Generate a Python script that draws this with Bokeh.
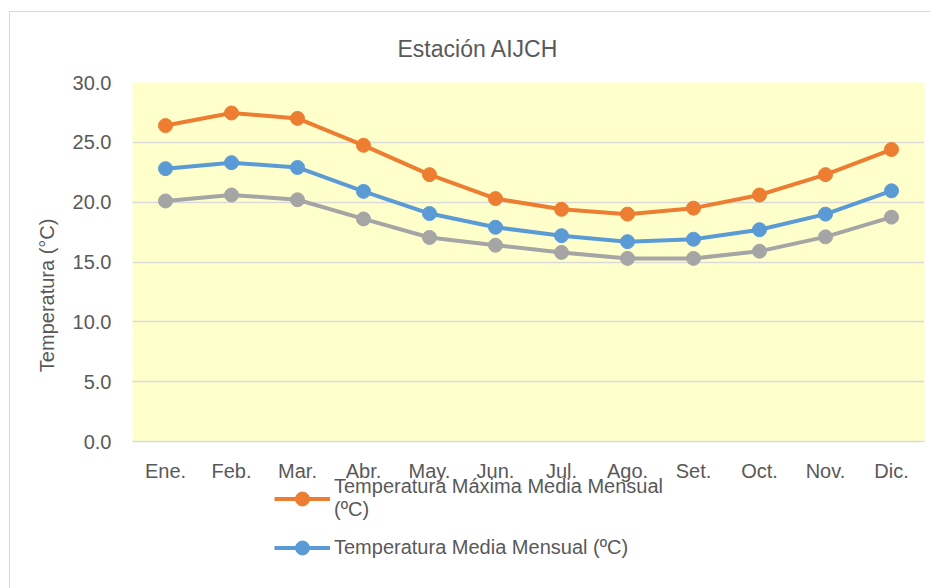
from bokeh.plotting import figure
from bokeh.layouts import column
from bokeh.models import (ColumnDataSource, FactorRange, Range1d, FixedTicker,
                          NumeralTickFormatter, Legend, LegendItem)
from bokeh.embed import file_html
from bokeh.resources import INLINE

months = ["Ene.", "Feb.", "Mar.", "Abr.", "May.", "Jun.", "Jul.", "Ago.", "Set.", "Oct.", "Nov.", "Dic."]
t_max = [26.4, 27.45, 27.0, 24.75, 22.3, 20.3, 19.4, 19.0, 19.5, 20.6, 22.3, 24.4]
t_med = [22.8, 23.3, 22.9, 20.9, 19.05, 17.9, 17.2, 16.7, 16.9, 17.7, 19.0, 20.95]
t_min = [20.1, 20.6, 20.2, 18.6, 17.05, 16.4, 15.8, 15.3, 15.3, 15.9, 17.1, 18.75]
y_ticks = [0, 5, 10, 15, 20, 25, 30]

title_text = "Estación AIJCH"
y_label_text = "Temperatura (°C)"
name_max = "Temperatura Máxima Media Mensual\n(ºC)"
name_med = "Temperatura Media Mensual (ºC)"
name_min = "Temperatura Mínima Media Mensual (ºC)"

FONT = "Liberation Sans"
TXT = "#595959"
colors = {"tmax": "#ED7D31", "tmed": "#5B9BD5", "tmin": "#A5A5A5"}

src = ColumnDataSource(dict(m=months, tmax=t_max, tmed=t_med, tmin=t_min))
x_range = FactorRange(*months)

p = figure(width=920, height=472, x_range=x_range, y_range=Range1d(0, 30),
           output_backend="svg", toolbar_location=None,
           min_border_left=122, min_border_top=70, min_border_right=6, min_border_bottom=38)
p.background_fill_color = "#FFFFCC"
p.border_fill_color = "white"
p.outline_line_color = None

p.title.text = title_text
p.title.text_font = FONT
p.title.text_font_size = "23px"
p.title.text_font_style = "normal"
p.title.text_color = TXT
p.title.align = "left"
p.title.offset = 265
p.title.standoff = 41

p.xgrid.grid_line_color = None
p.ygrid.grid_line_color = "#D9D9D9"
p.ygrid.grid_line_width = 1.5

p.yaxis.ticker = FixedTicker(ticks=y_ticks)
p.yaxis.formatter = NumeralTickFormatter(format="0.0")
p.yaxis.axis_line_color = None
p.yaxis.major_tick_line_color = None
p.yaxis.minor_tick_line_color = None
p.yaxis.major_label_standoff = 15
# trailing no-break spaces shift the centred label down, as in the reference
p.yaxis.axis_label = y_label_text + "\u00a0" * 12
p.yaxis.axis_label_standoff = 12
p.yaxis.axis_label_text_font = FONT
p.yaxis.axis_label_text_font_size = "20px"
p.yaxis.axis_label_text_font_style = "normal"
p.yaxis.axis_label_text_color = TXT
p.xaxis.axis_line_color = "#D9D9D9"
p.xaxis.axis_line_width = 1.5
p.xaxis.major_tick_line_color = None
p.xaxis.minor_tick_line_color = None
p.xaxis.major_label_standoff = 12
for ax in (p.xaxis, p.yaxis):
    ax.major_label_text_font = FONT
    ax.major_label_text_font_size = "20px"
    ax.major_label_text_color = TXT

for col in ("tmax", "tmed", "tmin"):
    c = colors[col]
    p.line("m", col, source=src, line_color=c, line_width=4)
    p.scatter("m", col, source=src, size=14, fill_color=c, line_color=c)

# legend strip below the chart (own frame, so that the legend is not clipped);
# its renderers draw the same series, kept outside its visible y range
p2 = figure(width=920, height=124, x_range=x_range, y_range=Range1d(100, 101),
            output_backend="svg", toolbar_location=None, x_axis_type=None, y_axis_type=None,
            min_border=0, min_border_left=0, min_border_right=0, min_border_top=0, min_border_bottom=0)
p2.outline_line_color = None
p2.grid.visible = False
p2.background_fill_alpha = 0
p2.border_fill_alpha = 0
p2.margin = (-20, 0, 0, 0)

items = []
for col, name in (("tmax", name_max), ("tmed", name_med)):
    c = colors[col]
    ln = p2.line("m", col, source=src, line_color=c, line_width=4)
    sc = p2.scatter("m", col, source=src, size=14, fill_color=c, line_color=c)
    items.append(LegendItem(label=name, renderers=[ln, sc]))

legend = Legend(items=items, location=(142, 23), orientation="vertical",
                label_text_font=FONT, label_text_font_size="20px", label_text_color=TXT,
                glyph_width=56, glyph_height=35, label_standoff=4, spacing=9,
                padding=0, margin=0, background_fill_alpha=0, border_line_alpha=0)
p2.add_layout(legend)

layout = column(p, p2, spacing=0)
layout.margin = (11, 0, 0, 9)
layout.styles = {"border-left": "1px solid #D9D9D9", "border-top": "1px solid #D9D9D9"}

open("out.html", "w").write(file_html(layout, INLINE))
